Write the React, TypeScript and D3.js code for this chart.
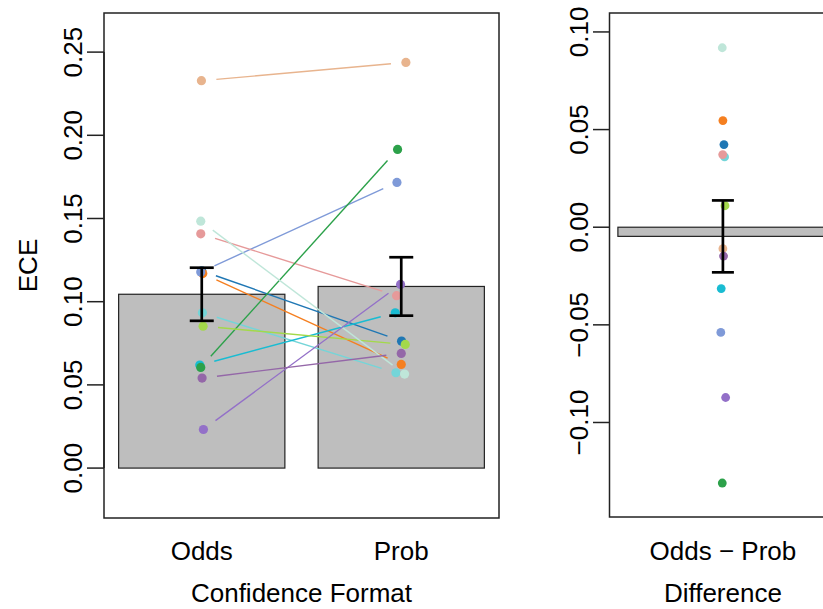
import { useEffect, useRef } from 'react';
import * as d3 from 'd3';

// one entry per participant, in drawing order
const subjectColors = [
  '#1f77b4', // blue
  '#f57f20', // orange
  '#7f9ad8', // periwinkle
  '#74d5d8', // light cyan
  '#e69a9a', // salmon
  '#19bcd2', // cyan
  '#2ca14a', // green
  '#a3d94a', // yellow-green
  '#bfe6d9', // light teal
  '#e8b48e', // peach
  '#9370c8', // purple
  '#9467a8', // dark purple
];

const odds = [0.1186, 0.1169, 0.1178, 0.0933, 0.1408, 0.0619, 0.0605, 0.0853, 0.1484, 0.2328, 0.0232, 0.0541];
const prob = [0.0763, 0.0623, 0.1717, 0.0573, 0.1036, 0.0933, 0.1915, 0.0743, 0.0565, 0.2438, 0.1104, 0.0689];

// horizontal jitter, in bar units
const jitterOdds = [0, 0.006, -0.006, 0.004, -0.006, -0.012, -0.006, 0.008, -0.006, -0.002, 0.01, 0.002];
const jitterProb = [0.002, 0, -0.026, -0.032, -0.028, -0.036, -0.022, 0.024, 0.02, 0.028, -0.004, 0];
const jitterDiff = [0.005, 0, -0.01, 0.008, -0.001, -0.008, -0.003, 0.01, -0.003, 0, 0.013, 0.003];

const formats = ['Odds', 'Prob'];
const leftTicks = [0, 0.05, 0.1, 0.15, 0.2, 0.25];
const rightTicks = [-0.1, -0.05, 0, 0.05, 0.1];

const FONT = '"Liberation Sans", Arial, sans-serif';
const FS = 26;

const se = (v: number[]) => (d3.deviation(v) as number) / Math.sqrt(v.length);

const App = () => {
  const ref = useRef<SVGSVGElement>(null);

  useEffect(() => {
    const svg = d3.select(ref.current);
    svg.selectAll('*').remove();

    const diff = odds.map((o, i) => o - prob[i]);
    const means = [d3.mean(odds) as number, d3.mean(prob) as number];
    const ses = [se(odds), se(prob)];
    const diffMean = d3.mean(diff) as number;
    const diffSe = se(diff);

    // left panel scales (R barplot: bars [0.2,1.2] and [1.4,2.4])
    const xL = d3.scaleLinear().domain([0.112, 2.488]).range([104, 499]);
    const yL = d3.scaleLinear().domain([-0.03, 0.2735]).range([518, 13]);
    const barL = [0.2, 1.4];
    const centerL = barL.map((b) => b + 0.5);

    // right panel scales
    const xR = d3.scaleLinear().domain([0.16, 1.24]).range([609.5, 836.3]);
    const yR = d3.scaleLinear().domain([-0.1484, 0.1097]).range([517, 13]);

    const fmt = d3.format('.2f');

    // ---------- left panel ----------
    const gL = svg.append('g');
    gL.selectAll('rect.bar')
      .data(means)
      .enter()
      .append('rect')
      .attr('class', 'bar')
      .attr('x', (_d, i) => xL(barL[i]))
      .attr('width', xL(1.2) - xL(0.2))
      .attr('y', (d) => yL(d))
      .attr('height', (d) => yL(0) - yL(d))
      .attr('fill', '#bebebe')
      .attr('stroke', '#222')
      .attr('stroke-width', 1.2);

    // connecting lines, shortened 15px on each end
    odds.forEach((o, i) => {
      const x1 = xL(centerL[0] + jitterOdds[i]);
      const y1 = yL(o);
      const x2 = xL(centerL[1] + jitterProb[i]);
      const y2 = yL(prob[i]);
      const len = Math.hypot(x2 - x1, y2 - y1);
      const ux = (x2 - x1) / len;
      const uy = (y2 - y1) / len;
      gL.append('line')
        .attr('x1', x1 + ux * 15)
        .attr('y1', y1 + uy * 15)
        .attr('x2', x2 - ux * 15)
        .attr('y2', y2 - uy * 15)
        .attr('stroke', subjectColors[i])
        .attr('stroke-width', 1.4);
    });

    [odds, prob].forEach((vals, k) => {
      const jit = k === 0 ? jitterOdds : jitterProb;
      gL.selectAll(`circle.p${k}`)
        .data(vals)
        .enter()
        .append('circle')
        .attr('class', `p${k}`)
        .attr('cx', (_d, i) => xL(centerL[k] + jit[i]))
        .attr('cy', (d) => yL(d))
        .attr('r', 4.6)
        .attr('fill', (_d, i) => subjectColors[i]);
    });

    means.forEach((m, k) => {
      const cx = xL(centerL[k]);
      const eg = gL.append('g').attr('stroke', '#000').attr('stroke-width', 2.7);
      eg.append('line').attr('x1', cx).attr('x2', cx).attr('y1', yL(m - ses[k])).attr('y2', yL(m + ses[k]));
      [m - ses[k], m + ses[k]].forEach((v) =>
        eg.append('line').attr('x1', cx - 12).attr('x2', cx + 12).attr('y1', yL(v)).attr('y2', yL(v))
      );
    });

    gL.append('rect')
      .attr('x', 104)
      .attr('y', 13)
      .attr('width', 395)
      .attr('height', 505)
      .attr('fill', 'none')
      .attr('stroke', '#222')
      .attr('stroke-width', 1.5);

    leftTicks.forEach((t) => {
      gL.append('line').attr('x1', 87).attr('x2', 104).attr('y1', yL(t)).attr('y2', yL(t)).attr('stroke', '#222').attr('stroke-width', 1.5);
      gL.append('text')
        .attr('transform', `translate(82,${yL(t)}) rotate(-90)`)
        .attr('text-anchor', 'middle')
        .text(fmt(t));
    });
    gL.append('line').attr('x1', 104).attr('x2', 104).attr('y1', yL(0)).attr('y2', yL(0.25)).attr('stroke', '#222').attr('stroke-width', 1.5);

    formats.forEach((f, k) => {
      gL.append('text').attr('x', xL(centerL[k])).attr('y', 560).attr('text-anchor', 'middle').text(f);
    });
    gL.append('text').attr('x', 301.5).attr('y', 602).attr('text-anchor', 'middle').text('Confidence Format');
    gL.append('text')
      .attr('transform', `translate(37,265.5) rotate(-90)`)
      .attr('text-anchor', 'middle')
      .text('ECE');

    // ---------- right panel ----------
    const gR = svg.append('g');
    gR.append('rect')
      .attr('x', xR(0.2))
      .attr('width', xR(1.2) - xR(0.2))
      .attr('y', yR(Math.max(0, diffMean)))
      .attr('height', Math.abs(yR(diffMean) - yR(0)))
      .attr('fill', '#bebebe')
      .attr('stroke', '#222')
      .attr('stroke-width', 1.2);

    gR.selectAll('circle')
      .data(diff)
      .enter()
      .append('circle')
      .attr('cx', (_d, i) => xR(0.7 + jitterDiff[i]))
      .attr('cy', (d) => yR(d))
      .attr('r', 4.4)
      .attr('fill', (_d, i) => subjectColors[i]);

    const egR = gR.append('g').attr('stroke', '#000').attr('stroke-width', 2.7);
    const cxR = xR(0.7);
    egR.append('line').attr('x1', cxR).attr('x2', cxR).attr('y1', yR(diffMean - diffSe)).attr('y2', yR(diffMean + diffSe));
    [diffMean - diffSe, diffMean + diffSe].forEach((v) =>
      egR.append('line').attr('x1', cxR - 11).attr('x2', cxR + 11).attr('y1', yR(v)).attr('y2', yR(v))
    );

    gR.append('rect')
      .attr('x', 609.5)
      .attr('y', 13)
      .attr('width', 226.8)
      .attr('height', 504)
      .attr('fill', 'none')
      .attr('stroke', '#222')
      .attr('stroke-width', 1.5);

    rightTicks.forEach((t) => {
      gR.append('line').attr('x1', 593).attr('x2', 609.5).attr('y1', yR(t)).attr('y2', yR(t)).attr('stroke', '#222').attr('stroke-width', 1.5);
      gR.append('text')
        .attr('transform', `translate(588,${yR(t)}) rotate(-90)`)
        .attr('text-anchor', 'middle')
        .text(fmt(t));
    });

    gR.append('text').attr('x', cxR).attr('y', 560).attr('text-anchor', 'middle').text('Odds \u2212 Prob');
    gR.append('text').attr('x', cxR).attr('y', 602).attr('text-anchor', 'middle').text('Difference');
  }, []);

  return (
    <svg
      ref={ref}
      width={823}
      height={609}
      style={{ position: 'absolute', left: 0, top: 0, background: 'white', fontFamily: FONT, fontSize: FS }}
    />
  );
};

export default App;
